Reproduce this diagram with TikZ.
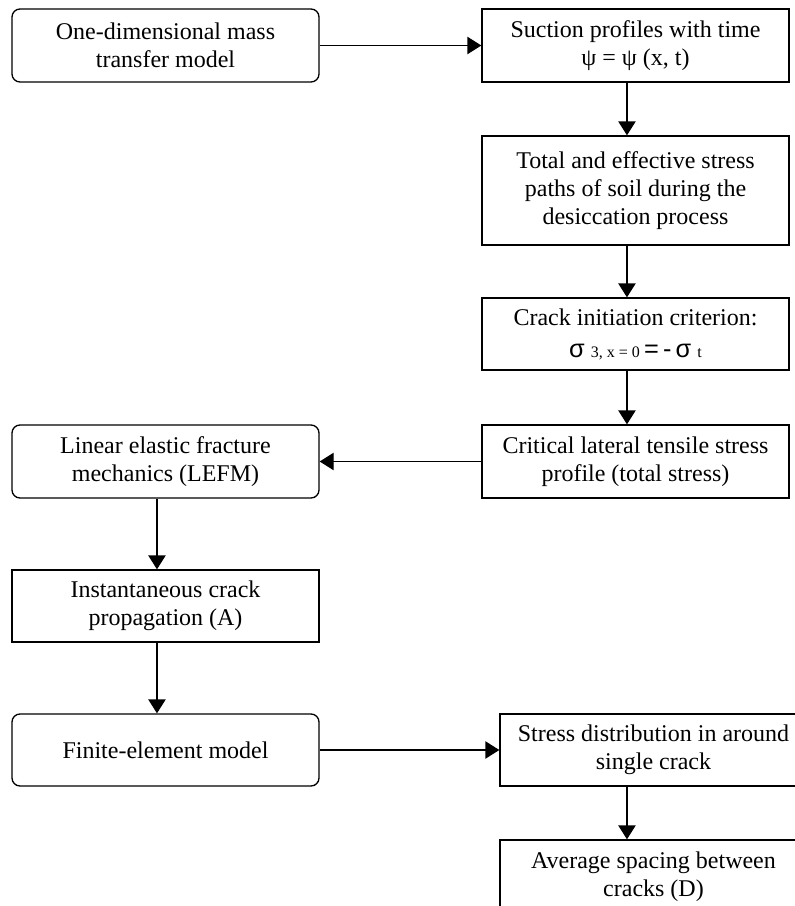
\documentclass[tikz,border=0pt]{standalone}
\usepackage{fontspec}
\setmainfont{Liberation Serif}
\newfontfamily\sansf{Liberation Sans}
\usetikzlibrary{arrows.meta}
\begin{document}
\begin{tikzpicture}[x=0.75pt,y=-0.75pt,
  every node/.style={font=\fontsize{18pt}{21pt}\selectfont},
  box/.style={draw, line width=1pt, minimum width=230.25pt, minimum height=54.75pt, align=center, inner sep=0pt},
  rbox/.style={box, rounded corners=6pt},
  arr/.style={-{Triangle[length=10.5pt,width=13pt]}, line width=1pt}]
\useasboundingbox (0,0) rectangle (794,906);
\node[rbox] (b1) at (165.5,45.5) {One-dimensional mass\\transfer model};
\node[box] (b2) at (635.5,45.5) {Suction profiles with time\\ψ = ψ (x, t)};
\node[box, minimum height=81.75pt] (b3) at (635.5,190.5) {Total and effective stress\\paths of soil during the\\desiccation process};
\node[box, minimum height=54pt] (b4) at (635.5,334) {Crack initiation criterion:\\[3pt]{\sansf\fontsize{19pt}{21pt}\selectfont σ}\ {\fontsize{12pt}{13pt}\selectfont 3, x = 0}{\sansf\fontsize{19pt}{21pt}\selectfont\,=\,-\,σ}\ {\fontsize{12pt}{13pt}\selectfont t}};
\node[box] (b5) at (635.5,461.5) {Critical lateral tensile stress\\profile (total stress)};
\node[rbox] (b6) at (165.5,461.5) {Linear elastic fracture\\mechanics (LEFM)};
\node[box, minimum height=54pt] (b7) at (165.5,606) {Instantaneous crack\\propagation (A)};
\node[rbox, minimum height=54pt] (b8) at (165.5,750) {Finite-element model};
\node[box, minimum height=54pt] (b9) at (653.5,750) {Stress distribution in around\\single crack};
\node[box] (b10) at (653.5,876.5) {Average spacing between\\cracks (D)};
\draw[arr] (b1.east) -- (b2.west);
\draw[arr] ([xshift=-6.4pt]b2.south) -- ([xshift=-6.4pt]b3.north);
\draw[arr] ([xshift=-6.4pt]b3.south) -- ([xshift=-6.4pt]b4.north);
\draw[arr] ([xshift=-6.4pt]b4.south) -- ([xshift=-6.4pt]b5.north);
\draw[arr] (b5.west) -- (b6.east);
\draw[arr] ([xshift=-6.4pt]b6.south) -- ([xshift=-6.4pt]b7.north);
\draw[arr] ([xshift=-6.4pt]b7.south) -- ([xshift=-6.4pt]b8.north);
\draw[arr] (b8.east) -- (b9.west);
\draw[arr] ([xshift=-19.9pt]b9.south) -- ([xshift=-19.9pt]b10.north);
\end{tikzpicture}
\end{document}
